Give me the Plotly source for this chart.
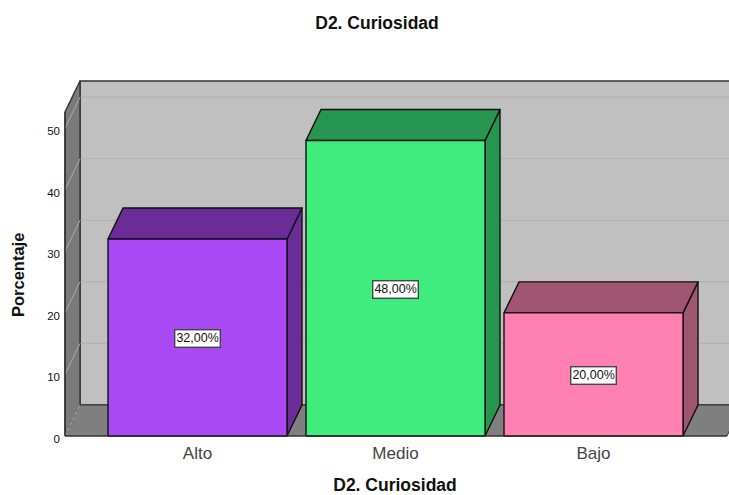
import plotly.graph_objects as go

# Data
categories = ["Alto", "Medio", "Bajo"]
percentages = [32, 48, 20]
labels = ["32,00%", "48,00%", "20,00%"]
y_ticks = [0, 10, 20, 30, 40, 50]
front_colors = ["#A849F5", "#41EC7E", "#FF80B1"]
dark_colors = ["#6B2C98", "#269550", "#A05570"]

# Geometry in axis units
PX_X, PX_Y = 198.0, 6.156
DX, DY = 15 / PX_X, 31 / PX_Y
HALF = 89.5 / PX_X
WALL_TOP = 324 / PX_Y
X_L = -132.5 / PX_X
X_R = 529.5 / PX_X
OUT = "#111111"

fig = go.Figure()


def poly(xs, ys, fill, line=OUT, width=1.4):
    fig.add_trace(go.Scatter(x=xs, y=ys, mode="lines", fill="toself", fillcolor=fill,
                             line=dict(color=line, width=width), hoverinfo="skip",
                             showlegend=False))


def seg(xs, ys, color, width=1.0, dash="solid"):
    fig.add_trace(go.Scatter(x=xs, y=ys, mode="lines",
                             line=dict(color=color, width=width, dash=dash),
                             hoverinfo="skip", showlegend=False))


# Back wall
poly([X_L + DX, X_R + DX, X_R + DX, X_L + DX, X_L + DX],
     [DY, DY, DY + WALL_TOP, DY + WALL_TOP, DY], "#C0C0C0", "#333333", 1.4)
for t in y_ticks[1:]:
    seg([X_L + DX, X_R + DX], [t + DY, t + DY], "#B2B2B2", 1.2)
# Floor
poly([X_L, X_L + DX, X_R + DX, X_R, X_L], [0, DY, DY, 0, 0], "#7F7F7F", "#333333", 1.0)
# Left wall
poly([X_L, X_L + DX, X_L + DX, X_L, X_L],
     [0, DY, DY + WALL_TOP, WALL_TOP, 0], "#7A7A7A", "#333333", 1.4)
for t in y_ticks[1:]:
    seg([X_L, X_L + DX], [t, t + DY], "#ABABAB", 1.0)
seg([X_L, X_L + DX], [0, DY], "#7C7C7C", 2.0)
seg([X_L, X_L + DX], [0, DY], "#B0B0B0", 1.0, "dot")

# Bars
for i, v in enumerate(percentages):
    l, r = i - HALF, i + HALF
    poly([r, r + DX, r + DX, r, r], [0, DY, v + DY, v, 0], dark_colors[i])
    poly([l, l + DX, r + DX, r, l], [v, v + DY, v + DY, v, v], dark_colors[i])
    poly([l, r, r, l, l], [0, 0, v, v, 0], front_colors[i])

# Axis lines
seg([X_L, X_R], [0, 0], "#333333", 1.2)
seg([X_L, X_L], [0, WALL_TOP], "#333333", 1.4)

for i, v in enumerate(percentages):
    fig.add_annotation(x=i, y=v / 2, yshift=-1, text=labels[i], showarrow=False,
                       font=dict(family="Liberation Sans", size=12.5, color="#111111"),
                       height=14, bgcolor="#FFFFFF", bordercolor="#444444",
                       borderwidth=1.4, borderpad=1)

# Rotated value-axis title, centred on the reference's position
fig.add_annotation(xref="paper", yref="paper", x=-54 / 668, y=(438 - 275) / 360,
                   text="<b>Porcentaje</b>", textangle=-90, showarrow=False,
                   font=dict(family="Liberation Sans", size=16.5, color="#111111"))

fig.update_layout(
    width=729, height=495, autosize=False,
    margin=dict(l=61, r=0, t=78, b=57),
    paper_bgcolor="#FFFFFF", plot_bgcolor="#FFFFFF",
    showlegend=False,
    title=dict(text="<b>D2. Curiosidad</b>", x=377 / 729, xanchor="center",
               y=1 - 23 / 495, yanchor="middle",
               font=dict(family="Liberation Sans", size=17.5, color="#111111")),
    xaxis=dict(range=[-136.5 / PX_X, 531.5 / PX_X], tickmode="array",
               tickvals=list(range(len(categories))), ticktext=categories,
               showgrid=False, zeroline=False, showline=False, ticks="",
               tickfont=dict(family="Liberation Sans", size=17, color="#444444"),
               ticklabelstandoff=3,
               title=dict(text="<b>D2. Curiosidad</b>", standoff=19,
                          font=dict(family="Liberation Sans", size=17.5, color="#111111"))),
    yaxis=dict(range=[-2 / PX_Y, 358 / PX_Y], tickmode="array", tickvals=y_ticks,
               showgrid=False, zeroline=False, showline=False, ticks="",
               ticklabelshift=3,
               tickfont=dict(family="Liberation Sans", size=11.5, color="#111111")),
)
fig.write_html("out.html", config={"displayModeBar": False},
               post_script="document.body.style.margin='0';")
